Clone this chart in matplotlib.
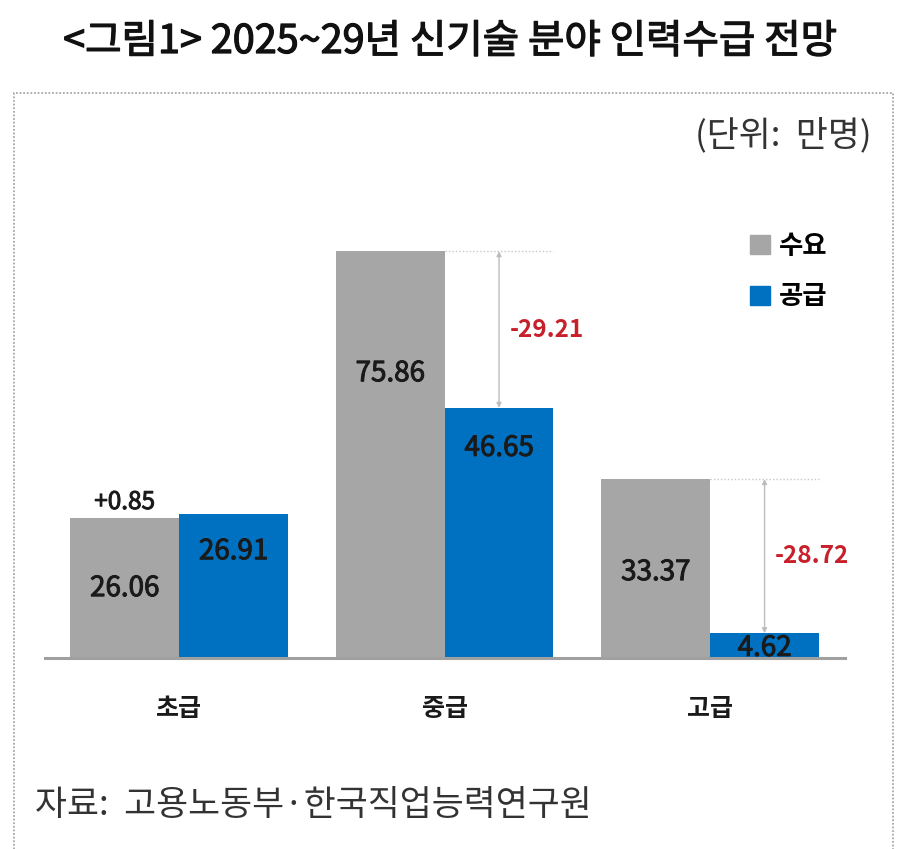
import matplotlib.pyplot as plt
import matplotlib.patheffects as pe
from matplotlib.patches import Rectangle, Patch
import numpy as np

plt.rcParams['font.family'] = ['Noto Sans CJK KR', 'DejaVu Sans']

# data (unit: 만명)
levels = ['초급', '중급', '고급']
demand = [26.06, 75.86, 33.37]
supply = [26.91, 46.65, 4.62]
gap = [0.85, -29.21, -28.72]

# where the value label sits inside each bar (fraction of bar height)
demand_pos = [0.50, 0.70, 0.48]
supply_pos = [0.74, 0.84, 0.41]

W, H = 900, 849
fig = plt.figure(figsize=(W / 100, H / 100), dpi=100)

def fx(x):
    return x / W

def fy(y):
    return 1 - y / H

# slightly heavier than regular, lighter than bold
def thick(c, lw=0.7):
    return [pe.withStroke(linewidth=lw, foreground=c)]

#dotted frame around the chart
fig.patches.append(Rectangle((fx(14), fy(870)), fx(893) - fx(14), fy(93) - fy(870),
                             transform=fig.transFigure, fill=False,
                             edgecolor='#A8A8A8', linestyle=(0, (1, 1)), linewidth=1.3))

ax = fig.add_axes([fx(45), fy(658), fx(845) - fx(45), fy(229) - fy(658)])
x = np.arange(len(levels))
w = 0.41
grayBars = ax.bar(x - w / 2, demand, w, color='#A6A6A6', label='수요')
blueBars = ax.bar(x + w / 2, supply, w, color='#0070C0', label='공급')
ax.set_xlim(-0.505, 2.508)
ax.set_ylim(0, 80)

#value labels inside bars
for i in range(len(levels)):
    ax.text(x[i] - w / 2, demand[i] * demand_pos[i], f'{demand[i]:.2f}', ha='center', va='center',
            fontsize=20, color='#1a1a1a', path_effects=thick('#1a1a1a'))
    ax.text(x[i] + w / 2, supply[i] * supply_pos[i], f'{supply[i]:.2f}', ha='center', va='center',
            fontsize=20, color='#1a1a1a', path_effects=thick('#1a1a1a'))

#gap annotations
for i in range(len(levels)):
    if gap[i] > 0:
        ax.text(x[i] - w / 2, demand[i] + 0.6, f'+{gap[i]:.2f}', ha='center', va='bottom',
                fontsize=17.5, color='#1a1a1a', path_effects=thick('#1a1a1a'))
    else:
        xb = x[i] + w / 2
        ax.hlines(demand[i], xb - w / 2, xb + w / 2, colors='#C8C8C8', linestyles=(0, (1, 1.5)), linewidth=1)
        ax.annotate('', xy=(xb, supply[i]), xytext=(xb, demand[i]),
                    arrowprops=dict(arrowstyle='<|-|>', color='#BDBDBD', lw=1, mutation_scale=7,
                                    shrinkA=0, shrinkB=0))
        ax.text(xb + 0.04, (demand[i] + supply[i]) / 2, f'{gap[i]:.2f}', ha='left', va='center',
                fontsize=17.5, fontweight='bold', color='#C8202A')

ax.set_xticks(x)
ax.set_xticklabels(levels, fontsize=18, fontweight='bold', color='#1a1a1a')
ax.tick_params(axis='x', length=0, pad=28)
ax.set_yticks([])
for s in ['top', 'right', 'left']:
    ax.spines[s].set_visible(False)
ax.spines['bottom'].set_color('#A0A0A0')
ax.spines['bottom'].set_linewidth(2.2)

ax.legend(handles=[Patch(color='#A6A6A6', label='수요'), Patch(color='#0070C0', label='공급')],
          loc='upper left', bbox_to_anchor=(fx(726), fy(209)), bbox_transform=fig.transFigure,
          frameon=False, handlelength=0.75, handleheight=0.75, handletextpad=0.35,
          labelspacing=0.9, prop={'size': 19, 'weight': 'bold'})

fig.text(0.5, fy(42), '<그림1> 2025~29년 신기술 분야 인력수급 전망', ha='center', va='center',
         fontsize=28.5, color='#111111', path_effects=thick('#111111', 0.9))
fig.text(fx(872), fy(135), '(단위:  만명)', ha='right', va='center', fontsize=25, color='#333333')
fig.text(fx(35), fy(805), '자료:  고용노동부·한국직업능력연구원', ha='left', va='center',
         fontsize=25, color='#333333')

fig.savefig('out.png', dpi=100)
